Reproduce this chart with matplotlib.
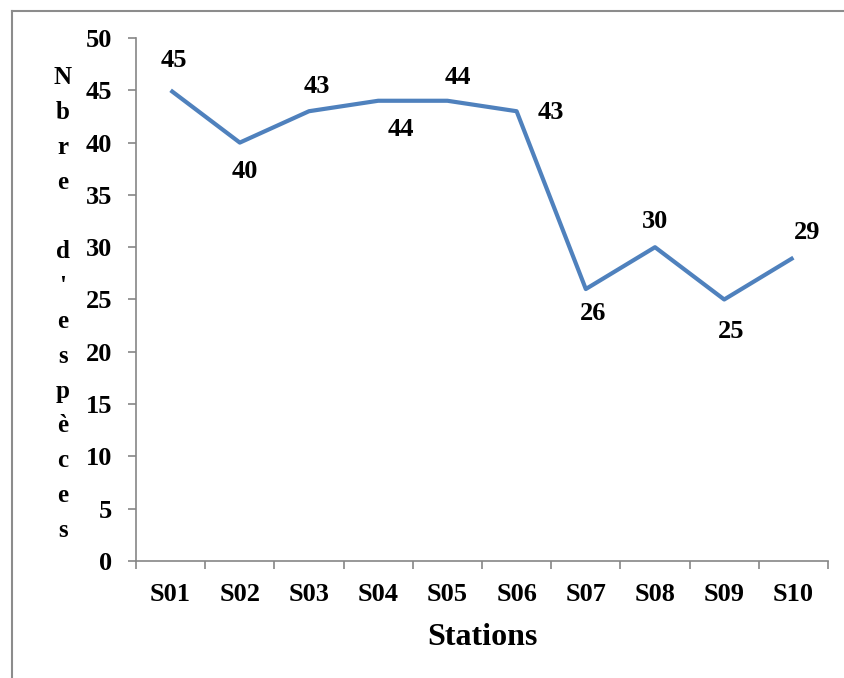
import matplotlib
matplotlib.use('Agg')
import matplotlib.pyplot as plt
from matplotlib.lines import Line2D

stations = ['S01', 'S02', 'S03', 'S04', 'S05', 'S06', 'S07', 'S08', 'S09', 'S10']
especes = [45, 40, 43, 44, 44, 43, 26, 30, 25, 29]
ylabel = "Nbre d'espèces"

# where each value label sits relative to its point (pixels)
label_offsets = [(3, 30), (5, -29), (8, 25), (23, -29), (10, 23),
                 (34, -1), (7, -24), (0, 26), (7, -32), (14, 25)]

plt.rcParams['font.family'] = ['Liberation Serif', 'DejaVu Serif']
plt.rcParams['font.weight'] = 'bold'

W, H = 844, 678
fig = plt.figure(figsize=(W / 100, H / 100), dpi=100)
ax = fig.add_axes([136 / W, 1 - 561 / H, (828 - 136) / W, (561 - 38) / H])

grey = '#868686'
x = list(range(len(stations)))
ax.plot(x, especes, color='#4F81BD', lw=3.0, solid_joinstyle='round',
        solid_capstyle='butt')

for xi, v, off in zip(x, especes, label_offsets):
    ax.annotate(str(v), (xi, v), xytext=off, textcoords='offset pixels',
                ha='center', va='center', fontsize=19, fontweight='bold')

ax.set_xlim(-0.5, len(stations) - 0.5)
ax.set_ylim(0, 50)
ax.set_yticks(range(0, 51, 5))
ax.set_xticks([i + 0.5 for i in range(-1, len(stations))], minor=False)
ax.set_xticklabels([])
ax.set_xticks(x, minor=True)
ax.set_xticklabels(stations, minor=True)
ax.tick_params(axis='x', which='major', length=6, width=1.2, color=grey)
ax.tick_params(axis='x', which='minor', length=0, pad=16, labelsize=19)
ax.tick_params(axis='y', length=6, width=1.2, color=grey, pad=11, labelsize=19)

for s in ['top', 'right']:
    ax.spines[s].set_visible(False)
for s in ['left', 'bottom']:
    ax.spines[s].set_color(grey)
    ax.spines[s].set_linewidth(1.2)

ax.set_xlabel('Stations', fontsize=23, fontweight='bold', labelpad=12)

# vertical stacked y label
top, step = 78, 34.8
for i, ch in enumerate(ylabel):
    fig.text(63 / W, 1 - (top + i * step) / H, ch, ha='center', va='center',
             fontsize=18, fontweight='bold')

# outer frame
fx, fy = 11.5 / W, 1 - 10.5 / H
fig.add_artist(Line2D([fx, fx], [0, fy], color='#8c8c8c', lw=1.5))
fig.add_artist(Line2D([fx, 1], [fy, fy], color='#8c8c8c', lw=1.5))

fig.savefig('out.png', dpi=100)
